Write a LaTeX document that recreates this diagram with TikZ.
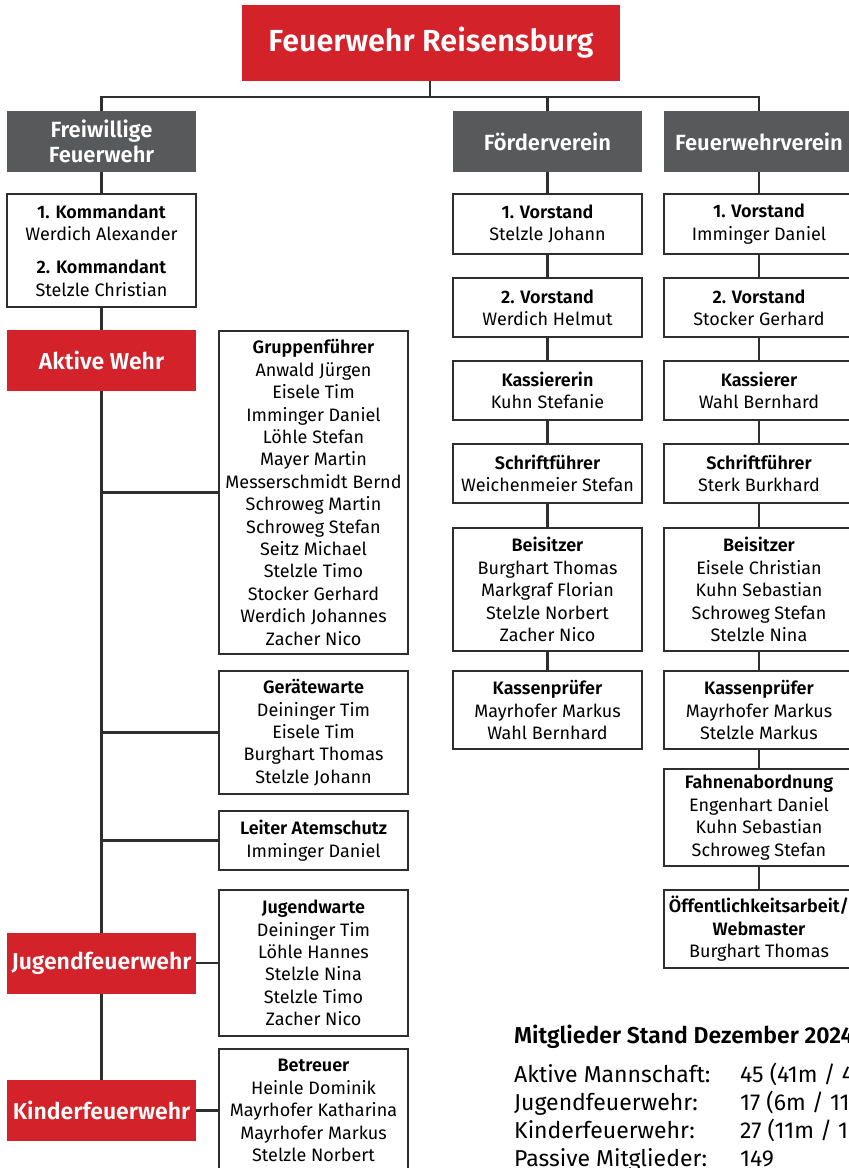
\documentclass[tikz,border=0pt]{standalone}
\usepackage{fontspec}
\setmainfont{Fira Sans}[BoldFont={Fira Sans SemiBold}]
\definecolor{fwred}{HTML}{D3222A}
\definecolor{fwgray}{HTML}{58595B}
\definecolor{fwline}{HTML}{2E2E2E}
\tikzset{
  redbox/.style={fill=fwred, text=white, font=\fontsize{23}{27}\selectfont\bfseries, minimum width=189pt, minimum height=61pt, inner sep=0pt},
  greybox/.style={fill=fwgray, text=white, font=\fontsize{22}{25}\selectfont\bfseries, align=center, minimum width=189pt, minimum height=61pt, inner sep=0pt},
  wbox/.style={draw=fwline, line width=1.3pt, fill=white, align=center, font=\fontsize{18}{22.4}\selectfont, minimum width=189pt, inner sep=0pt},
  conn/.style={draw=fwline, line width=2.6pt},
  stat/.style={anchor=base west, inner sep=0pt, font=\fontsize{23}{28}\selectfont},
}
\begin{document}
\begin{tikzpicture}[x=1pt,y=-1pt]
\useasboundingbox (0,0) rectangle (849,1168);
\clip (0,0) rectangle (849,1168);
% title
\node[redbox, minimum width=378pt, minimum height=76pt, font=\fontsize{30.5}{36}\selectfont\bfseries] (title) at (431,43) {Feuerwehr Reisensburg};
% gray headers
\node[greybox] (fw) at (101.5,141.5) {Freiwillige\\Feuerwehr};
\node[greybox] (fv) at (547.5,141.5) {Förderverein};
\node[greybox, minimum width=190pt] (fwv) at (759,141.5) {Feuerwehrverein};
% left column
\node[wbox, minimum height=113pt] (kom) at (101.5,250.5) {\textbf{1. Kommandant}\\Werdich Alexander\\[11pt]\textbf{2. Kommandant}\\Stelzle Christian};
\node[redbox] (aktiv) at (101.5,360.5) {Aktive Wehr};
\node[redbox] (jugend) at (101.5,963.5) {Jugendfeuerwehr};
\node[redbox] (kinder) at (101.5,1110.5) {Kinderfeuerwehr};
\node[wbox, minimum height=323pt] (gruppen) at (313.5,492.5) {\textbf{Gruppenführer}\\Anwald Jürgen\\Eisele Tim\\Imminger Daniel\\Löhle Stefan\\Mayer Martin\\Messerschmidt Bernd\\Schroweg Martin\\Schroweg Stefan\\Seitz Michael\\Stelzle Timo\\Stocker Gerhard\\Werdich Johannes\\Zacher Nico};
\node[wbox, minimum height=123pt] (geraet) at (313.5,732.5) {\textbf{Gerätewarte}\\Deininger Tim\\Eisele Tim\\Burghart Thomas\\Stelzle Johann};
\node[wbox, minimum height=59pt] (atem) at (313.5,840.5) {\textbf{Leiter Atemschutz}\\Imminger Daniel};
\node[wbox, minimum height=146pt] (jwarte) at (313.5,963) {\textbf{Jugendwarte}\\Deininger Tim\\Löhle Hannes\\Stelzle Nina\\Stelzle Timo\\Zacher Nico};
\node[wbox, minimum height=123pt] (betreuer) at (313.5,1110.5) {\textbf{Betreuer}\\Heinle Dominik\\Mayrhofer Katharina\\Mayrhofer Markus\\Stelzle Norbert};
% Foerderverein column
\node[wbox, minimum height=60pt] (fa1) at (547.5,224) {\textbf{1. Vorstand}\\Stelzle Johann};
\node[wbox, minimum height=59pt] (fa2) at (547.5,307.5) {\textbf{2. Vorstand}\\Werdich Helmut};
\node[wbox, minimum height=59pt] (fa3) at (547.5,390.5) {\textbf{Kassiererin}\\Kuhn Stefanie};
\node[wbox, minimum height=59pt] (fa4) at (547.5,473.5) {\textbf{Schriftführer}\\Weichenmeier Stefan};
\node[wbox, minimum height=123pt] (fa5) at (547.5,589.5) {\textbf{Beisitzer}\\Burghart Thomas\\Markgraf Florian\\Stelzle Norbert\\Zacher Nico};
\node[wbox, minimum height=78pt] (fa6) at (547.5,710) {\textbf{Kassenprüfer}\\Mayrhofer Markus\\Wahl Bernhard};
% Feuerwehrverein column
\node[wbox, minimum width=190pt, minimum height=60pt] (fb1) at (759,224) {\textbf{1. Vorstand}\\Imminger Daniel};
\node[wbox, minimum width=190pt, minimum height=59pt] (fb2) at (759,307.5) {\textbf{2. Vorstand}\\Stocker Gerhard};
\node[wbox, minimum width=190pt, minimum height=59pt] (fb3) at (759,390.5) {\textbf{Kassierer}\\Wahl Bernhard};
\node[wbox, minimum width=190pt, minimum height=59pt] (fb4) at (759,473.5) {\textbf{Schriftführer}\\Sterk Burkhard};
\node[wbox, minimum width=190pt, minimum height=123pt] (fb5) at (759,589.5) {\textbf{Beisitzer}\\Eisele Christian\\Kuhn Sebastian\\Schroweg Stefan\\Stelzle Nina};
\node[wbox, minimum width=190pt, minimum height=78pt] (fb6) at (759,710) {\textbf{Kassenprüfer}\\Mayrhofer Markus\\Stelzle Markus};
\node[wbox, minimum width=190pt, minimum height=97pt] (fb7) at (759,817.5) {\textbf{Fahnenabordnung}\\Engenhart Daniel\\Kuhn Sebastian\\Schroweg Stefan};
\node[wbox, minimum width=190pt, minimum height=78pt] (fb8) at (759,929) {\textbf{Öffentlichkeitsarbeit/}\\\textbf{Webmaster}\\Burghart Thomas};
% connectors
\coordinate (bus) at (430,97);
\draw[conn] (title.south -| bus) -- (bus);
\draw[conn] (fw.north -| 101.5,0) |- (bus) -| (fwv.north);
\draw[conn] (fv.north) -- (fv.north |- bus);
\draw[conn] (fw.south) -- (kom.north);
\draw[conn] (kom.south) -- (aktiv.north);
\draw[conn] (aktiv.south) -- (jugend.north);
\draw[conn] (jugend.south) -- (kinder.north);
\draw[conn] (gruppen.west) -- (gruppen.west -| aktiv.south);
\draw[conn] (geraet.west) -- (geraet.west -| aktiv.south);
\draw[conn] (atem.west) -- (atem.west -| aktiv.south);
\draw[conn] (jugend.east |- jwarte.west) -- (jwarte.west);
\draw[conn] (kinder.east |- betreuer.west) -- (betreuer.west);
\draw[conn] (fv.south) -- (fa1.north);
\draw[conn] (fa1.south) -- (fa2.north);
\draw[conn] (fa2.south) -- (fa3.north);
\draw[conn] (fa3.south) -- (fa4.north);
\draw[conn] (fa4.south) -- (fa5.north);
\draw[conn] (fa5.south) -- (fa6.north);
\draw[conn] (fwv.south) -- (fb1.north);
\draw[conn] (fb1.south) -- (fb2.north);
\draw[conn] (fb2.south) -- (fb3.north);
\draw[conn] (fb3.south) -- (fb4.north);
\draw[conn] (fb4.south) -- (fb5.north);
\draw[conn] (fb5.south) -- (fb6.north);
\draw[conn] (fb6.south) -- (fb7.north);
\draw[conn] (fb7.south) -- (fb8.north);
% statistics
\node[stat, font=\fontsize{23}{28}\selectfont\bfseries] (sh) at (514,1043) {Mitglieder Stand Dezember 2024};
\node[stat] (s1) at (514,1082) {Aktive Mannschaft:};
\node[stat] (s2) at (514,1110) {Jugendfeuerwehr:};
\node[stat] (s3) at (514,1138) {Kinderfeuerwehr:};
\node[stat] (s4) at (514,1166) {Passive Mitglieder:};
\node[stat] (v1) at (740,1082) {45 (41m / 4w)};
\node[stat] (v2) at (740,1110) {17 (6m / 11w)};
\node[stat] (v3) at (740,1138) {27 (11m / 16w)};
\node[stat] (v4) at (740,1166) {149};
\end{tikzpicture}
\end{document}
